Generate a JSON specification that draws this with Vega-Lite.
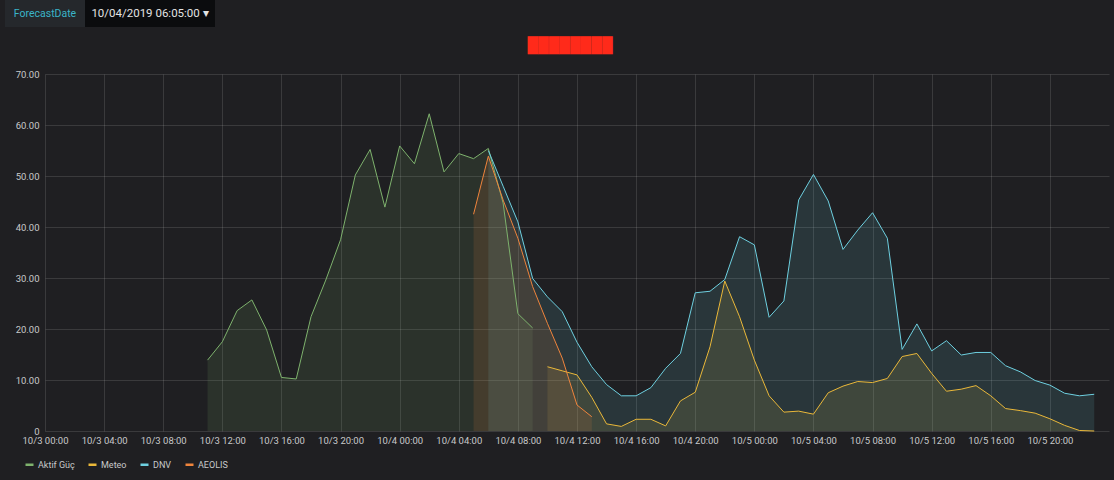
{
  "$schema": "https://vega.github.io/schema/vega-lite/v6.json",
  "background": "#1f1f22",
  "padding": {"left": 5, "top": 0, "right": 5, "bottom": 10},
  "config": {
    "font": "Roboto",
    "view": {"stroke": null},
    "axis": {
      "labelColor": "#c8c9ca",
      "labelFont": "Roboto",
      "labelFontSize": 9.5,
      "gridColor": "#ffffff",
      "gridOpacity": 0.12,
      "gridWidth": 1,
      "ticks": false,
      "domain": false
    }
  },
  "columns": 1,
  "align": "none",
  "spacing": 11,
  "concat": [
    {
      "spacing": 0,
      "bounds": "flush",
      "hconcat": [
        {
          "width": 80, "height": 27,
          "data": {"values": [{"label": "ForecastDate"}]},
          "layer": [
            {"mark": {"type": "rect", "color": "#25282c", "xOffset": -40, "x2Offset": -40}, "encoding": {"x": {"value": 0}, "x2": {"value": "width"}, "y": {"value": 0}, "y2": {"value": "height"}}},
            {"mark": {"type": "text", "fontSize": 10.5, "color": "#3ab4c8", "font": "Roboto", "dx": -40}, "encoding": {"text": {"field": "label"}}}
          ]
        },
        {
          "width": 130, "height": 27,
          "data": {"values": [{"label": "10/04/2019 06:05:00 ▾"}]},
          "layer": [
            {"mark": {"type": "rect", "color": "#0b0c0e", "xOffset": -40, "x2Offset": -40}, "encoding": {"x": {"value": 0}, "x2": {"value": "width"}, "y": {"value": 0}, "y2": {"value": "height"}}},
            {"mark": {"type": "text", "fontSize": 11.5, "color": "#e3e3e3", "font": "Roboto", "dx": -40}, "encoding": {"text": {"field": "label"}}}
          ]
        }
      ]
    },
    {
      "width": 1064,
      "height": 357,
      "title": {"text": "████████", "color": "#ff2a1a", "fontSize": 15, "anchor": "middle", "offset": 16, "dx": -7},
      "data": {"values": [
          {"s": "Aktif Güç", "t": "2019-10-03T11:00:00Z", "v": 13.9},
          {"s": "Aktif Güç", "t": "2019-10-03T12:00:00Z", "v": 17.5},
          {"s": "Aktif Güç", "t": "2019-10-03T13:00:00Z", "v": 23.6},
          {"s": "Aktif Güç", "t": "2019-10-03T14:00:00Z", "v": 25.7},
          {"s": "Aktif Güç", "t": "2019-10-03T15:00:00Z", "v": 19.8},
          {"s": "Aktif Güç", "t": "2019-10-03T16:00:00Z", "v": 10.5},
          {"s": "Aktif Güç", "t": "2019-10-03T17:00:00Z", "v": 10.2},
          {"s": "Aktif Güç", "t": "2019-10-03T18:00:00Z", "v": 22.4},
          {"s": "Aktif Güç", "t": "2019-10-03T19:00:00Z", "v": 29.6},
          {"s": "Aktif Güç", "t": "2019-10-03T20:00:00Z", "v": 37.5},
          {"s": "Aktif Güç", "t": "2019-10-03T21:00:00Z", "v": 50.2},
          {"s": "Aktif Güç", "t": "2019-10-03T22:00:00Z", "v": 55.2},
          {"s": "Aktif Güç", "t": "2019-10-03T23:00:00Z", "v": 43.9},
          {"s": "Aktif Güç", "t": "2019-10-04T00:00:00Z", "v": 55.9},
          {"s": "Aktif Güç", "t": "2019-10-04T01:00:00Z", "v": 52.4},
          {"s": "Aktif Güç", "t": "2019-10-04T02:00:00Z", "v": 62.2},
          {"s": "Aktif Güç", "t": "2019-10-04T03:00:00Z", "v": 50.8},
          {"s": "Aktif Güç", "t": "2019-10-04T04:00:00Z", "v": 54.4},
          {"s": "Aktif Güç", "t": "2019-10-04T05:00:00Z", "v": 53.4},
          {"s": "Aktif Güç", "t": "2019-10-04T06:00:00Z", "v": 55.4},
          {"s": "Aktif Güç", "t": "2019-10-04T07:00:00Z", "v": 44.7},
          {"s": "Aktif Güç", "t": "2019-10-04T08:00:00Z", "v": 23.0},
          {"s": "Aktif Güç", "t": "2019-10-04T09:00:00Z", "v": 20.2},
          {"s": "Meteo", "t": "2019-10-04T10:00:00Z", "v": 12.6},
          {"s": "Meteo", "t": "2019-10-04T11:00:00Z", "v": 11.8},
          {"s": "Meteo", "t": "2019-10-04T12:00:00Z", "v": 11.0},
          {"s": "Meteo", "t": "2019-10-04T13:00:00Z", "v": 6.6},
          {"s": "Meteo", "t": "2019-10-04T14:00:00Z", "v": 1.4},
          {"s": "Meteo", "t": "2019-10-04T15:00:00Z", "v": 0.9},
          {"s": "Meteo", "t": "2019-10-04T16:00:00Z", "v": 2.3},
          {"s": "Meteo", "t": "2019-10-04T17:00:00Z", "v": 2.3},
          {"s": "Meteo", "t": "2019-10-04T18:00:00Z", "v": 1.0},
          {"s": "Meteo", "t": "2019-10-04T19:00:00Z", "v": 5.9},
          {"s": "Meteo", "t": "2019-10-04T20:00:00Z", "v": 7.6},
          {"s": "Meteo", "t": "2019-10-04T21:00:00Z", "v": 16.5},
          {"s": "Meteo", "t": "2019-10-04T22:00:00Z", "v": 29.4},
          {"s": "Meteo", "t": "2019-10-04T23:00:00Z", "v": 22.4},
          {"s": "Meteo", "t": "2019-10-05T00:00:00Z", "v": 13.9},
          {"s": "Meteo", "t": "2019-10-05T01:00:00Z", "v": 6.9},
          {"s": "Meteo", "t": "2019-10-05T02:00:00Z", "v": 3.7},
          {"s": "Meteo", "t": "2019-10-05T03:00:00Z", "v": 3.9},
          {"s": "Meteo", "t": "2019-10-05T04:00:00Z", "v": 3.3},
          {"s": "Meteo", "t": "2019-10-05T05:00:00Z", "v": 7.5},
          {"s": "Meteo", "t": "2019-10-05T06:00:00Z", "v": 8.8},
          {"s": "Meteo", "t": "2019-10-05T07:00:00Z", "v": 9.7},
          {"s": "Meteo", "t": "2019-10-05T08:00:00Z", "v": 9.5},
          {"s": "Meteo", "t": "2019-10-05T09:00:00Z", "v": 10.3},
          {"s": "Meteo", "t": "2019-10-05T10:00:00Z", "v": 14.6},
          {"s": "Meteo", "t": "2019-10-05T11:00:00Z", "v": 15.2},
          {"s": "Meteo", "t": "2019-10-05T12:00:00Z", "v": 11.3},
          {"s": "Meteo", "t": "2019-10-05T13:00:00Z", "v": 7.8},
          {"s": "Meteo", "t": "2019-10-05T14:00:00Z", "v": 8.2},
          {"s": "Meteo", "t": "2019-10-05T15:00:00Z", "v": 8.9},
          {"s": "Meteo", "t": "2019-10-05T16:00:00Z", "v": 6.9},
          {"s": "Meteo", "t": "2019-10-05T17:00:00Z", "v": 4.4},
          {"s": "Meteo", "t": "2019-10-05T18:00:00Z", "v": 4.0},
          {"s": "Meteo", "t": "2019-10-05T19:00:00Z", "v": 3.5},
          {"s": "Meteo", "t": "2019-10-05T20:00:00Z", "v": 2.4},
          {"s": "Meteo", "t": "2019-10-05T21:00:00Z", "v": 1.1},
          {"s": "Meteo", "t": "2019-10-05T22:00:00Z", "v": 0.1},
          {"s": "Meteo", "t": "2019-10-05T23:00:00Z", "v": 0.0},
          {"s": "DNV", "t": "2019-10-04T06:00:00Z", "v": 55.0},
          {"s": "DNV", "t": "2019-10-04T07:00:00Z", "v": 48.0},
          {"s": "DNV", "t": "2019-10-04T08:00:00Z", "v": 41.0},
          {"s": "DNV", "t": "2019-10-04T09:00:00Z", "v": 29.9},
          {"s": "DNV", "t": "2019-10-04T10:00:00Z", "v": 26.3},
          {"s": "DNV", "t": "2019-10-04T11:00:00Z", "v": 23.4},
          {"s": "DNV", "t": "2019-10-04T12:00:00Z", "v": 17.4},
          {"s": "DNV", "t": "2019-10-04T13:00:00Z", "v": 12.6},
          {"s": "DNV", "t": "2019-10-04T14:00:00Z", "v": 9.1},
          {"s": "DNV", "t": "2019-10-04T15:00:00Z", "v": 6.9},
          {"s": "DNV", "t": "2019-10-04T16:00:00Z", "v": 6.9},
          {"s": "DNV", "t": "2019-10-04T17:00:00Z", "v": 8.5},
          {"s": "DNV", "t": "2019-10-04T18:00:00Z", "v": 12.3},
          {"s": "DNV", "t": "2019-10-04T19:00:00Z", "v": 15.2},
          {"s": "DNV", "t": "2019-10-04T20:00:00Z", "v": 27.1},
          {"s": "DNV", "t": "2019-10-04T21:00:00Z", "v": 27.4},
          {"s": "DNV", "t": "2019-10-04T22:00:00Z", "v": 29.7},
          {"s": "DNV", "t": "2019-10-04T23:00:00Z", "v": 38.1},
          {"s": "DNV", "t": "2019-10-05T00:00:00Z", "v": 36.5},
          {"s": "DNV", "t": "2019-10-05T01:00:00Z", "v": 22.3},
          {"s": "DNV", "t": "2019-10-05T02:00:00Z", "v": 25.5},
          {"s": "DNV", "t": "2019-10-05T03:00:00Z", "v": 45.3},
          {"s": "DNV", "t": "2019-10-05T04:00:00Z", "v": 50.3},
          {"s": "DNV", "t": "2019-10-05T05:00:00Z", "v": 45.1},
          {"s": "DNV", "t": "2019-10-05T06:00:00Z", "v": 35.6},
          {"s": "DNV", "t": "2019-10-05T07:00:00Z", "v": 39.4},
          {"s": "DNV", "t": "2019-10-05T08:00:00Z", "v": 42.8},
          {"s": "DNV", "t": "2019-10-05T09:00:00Z", "v": 37.8},
          {"s": "DNV", "t": "2019-10-05T10:00:00Z", "v": 16.0},
          {"s": "DNV", "t": "2019-10-05T11:00:00Z", "v": 21.0},
          {"s": "DNV", "t": "2019-10-05T12:00:00Z", "v": 15.7},
          {"s": "DNV", "t": "2019-10-05T13:00:00Z", "v": 17.7},
          {"s": "DNV", "t": "2019-10-05T14:00:00Z", "v": 14.9},
          {"s": "DNV", "t": "2019-10-05T15:00:00Z", "v": 15.4},
          {"s": "DNV", "t": "2019-10-05T16:00:00Z", "v": 15.4},
          {"s": "DNV", "t": "2019-10-05T17:00:00Z", "v": 12.8},
          {"s": "DNV", "t": "2019-10-05T18:00:00Z", "v": 11.6},
          {"s": "DNV", "t": "2019-10-05T19:00:00Z", "v": 9.9},
          {"s": "DNV", "t": "2019-10-05T20:00:00Z", "v": 9.0},
          {"s": "DNV", "t": "2019-10-05T21:00:00Z", "v": 7.4},
          {"s": "DNV", "t": "2019-10-05T22:00:00Z", "v": 6.9},
          {"s": "DNV", "t": "2019-10-05T23:00:00Z", "v": 7.2},
          {"s": "AEOLIS", "t": "2019-10-04T05:00:00Z", "v": 42.5},
          {"s": "AEOLIS", "t": "2019-10-04T06:00:00Z", "v": 53.9},
          {"s": "AEOLIS", "t": "2019-10-04T07:00:00Z", "v": 45.3},
          {"s": "AEOLIS", "t": "2019-10-04T08:00:00Z", "v": 37.8},
          {"s": "AEOLIS", "t": "2019-10-04T09:00:00Z", "v": 28.3},
          {"s": "AEOLIS", "t": "2019-10-04T10:00:00Z", "v": 21.1},
          {"s": "AEOLIS", "t": "2019-10-04T11:00:00Z", "v": 14.3},
          {"s": "AEOLIS", "t": "2019-10-04T12:00:00Z", "v": 5.1},
          {"s": "AEOLIS", "t": "2019-10-04T13:00:00Z", "v": 2.8}
      ]},
      "encoding": {
        "x": {
          "field": "t", "type": "temporal", "title": null,
          "scale": {"type": "utc", "domain": [1570060800000, 1570320000000]},
          "axis": {"values": [1570060800000, 1570075200000, 1570089600000, 1570104000000, 1570118400000, 1570132800000, 1570147200000, 1570161600000, 1570176000000, 1570190400000, 1570204800000, 1570219200000, 1570233600000, 1570248000000, 1570262400000, 1570276800000, 1570291200000, 1570305600000], "labelExpr": "utcFormat(datum.value, '%-m/%-d %H:%M')", "labelPadding": 4, "labelFlush": false, "labelOverlap": false}
        },
        "y": {
          "field": "v", "type": "quantitative", "stack": null, "title": null,
          "scale": {"domain": [0, 70]},
          "axis": {"values": [0, 10, 20, 30, 40, 50, 60, 70], "labelExpr": "datum.value == 0 ? '0' : format(datum.value, '.2f')", "labelPadding": 6, "minExtent": 40}
        },
        "color": {
          "field": "s", "type": "nominal",
          "scale": {"domain": ["Aktif Güç", "Meteo", "DNV", "AEOLIS"], "range": ["#7eb26d", "#eab839", "#6ed0e0", "#ef843c"]},
          "legend": {"orient": "none", "legendX": -21, "legendY": 459, "direction": "horizontal", "title": null, "symbolType": "stroke", "symbolStrokeWidth": 2.5, "symbolSize": 64, "labelColor": "#c8c9ca", "labelFontSize": 9, "labelFont": "Roboto", "labelOffset": 3, "columnPadding": 8}
        }
      },
      "layer": [
        {"mark": {"type": "area", "fillOpacity": 0.13}},
        {"mark": {"type": "line", "strokeWidth": 1}}
      ]
    }
  ]
}
